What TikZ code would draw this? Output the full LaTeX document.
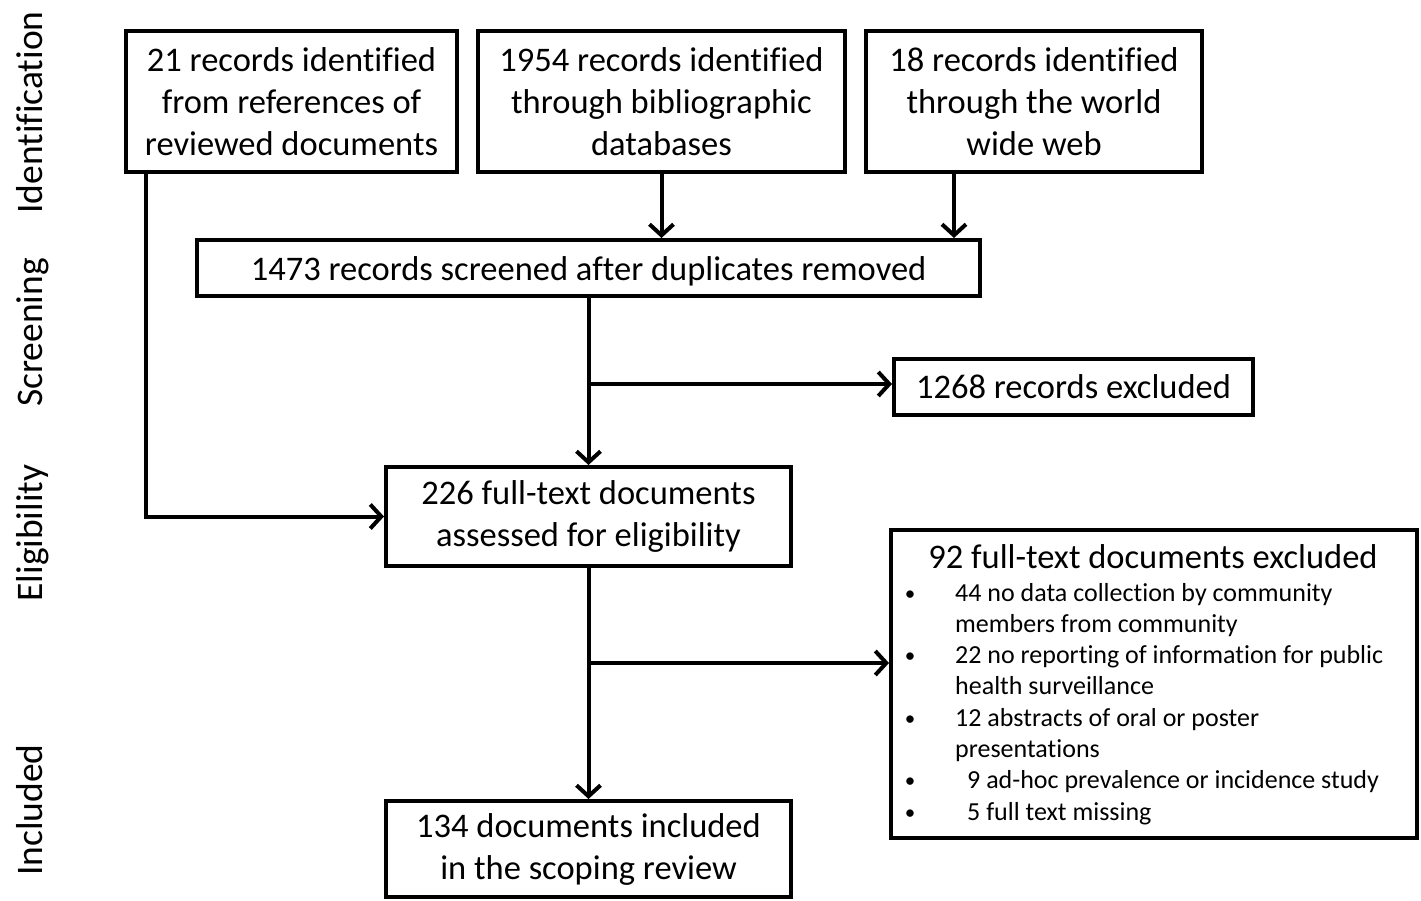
\documentclass[tikz,border=0pt]{standalone}
\usepackage{fontspec}
\setmainfont{Carlito}[Ligatures=NoCommon]
\usetikzlibrary{arrows.meta}
\begin{document}
\begin{tikzpicture}[x=1pt,y=-1pt,
  box/.style={draw, line width=4pt, align=center, inner sep=0pt, font=\fontsize{34.5}{42}\selectfont},
  conn/.style={line width=4pt, -{Straight Barb[length=11pt,width=24pt,line width=4pt]}},
  side/.style={rotate=90, anchor=base, inner sep=0pt, font=\fontsize{37.5}{40}\selectfont},
  title/.style={anchor=base, inner sep=0pt, font=\fontsize{34.5}{42}\selectfont},
  item/.style={anchor=base west, inner sep=0pt, font=\fontsize{26}{31}\selectfont},
  dot/.style={anchor=base, inner sep=0pt, font=\fontsize{21}{31}\selectfont}]
\useasboundingbox (0,0) rectangle (1421,901);

% side labels
\node[side] (lid) at (42,112.5) {Identification};
\node[side] (lsc) at (42,332.5) {Screening};
\node[side] (lel) at (42,533) {Eligibility};
\node[side] (lin) at (42,810) {Included};

% boxes
\node[box, minimum width=331, minimum height=141] (A) at (291.5,101.5)
  {21 records identified\\from references of\\reviewed documents};
\node[box, minimum width=367, minimum height=141] (B) at (661.5,101.5)
  {1954 records identified\\through bibliographic\\databases};
\node[box, minimum width=336, minimum height=141] (C) at (1034,101.5)
  {18 records identified\\through the world\\wide web};
\node[box, minimum width=783, minimum height=56, text height=32pt, text depth=8pt] (S) at (588.5,268)
  {1473 records screened after duplicates removed};
\node[box, minimum width=359, minimum height=56] (E) at (1073.5,387)
  {1268 records excluded};
\node[box, minimum width=405, minimum height=99] (G) at (588.5,516.5)
  {226 full-text documents\\assessed for eligibility};
\node[box, minimum width=526, minimum height=308] (X) at (1154,684) {};
\node[box, minimum width=405, minimum height=96] (I) at (588.5,849)
  {134 documents included\\in the scoping review};

% exclusion box content
\node[title] (xt) at (1153,568) {92 full-text documents excluded};
\node[dot] (d1) at (910,600) {•};
\node[dot] (d3) at (910,662.6) {•};
\node[dot] (d5) at (910,725.2) {•};
\node[dot] (d7) at (910,787.8) {•};
\node[dot] (d8) at (910,819.1) {•};
\node[item] (t1) at (955,601) {44 no data collection by community};
\node[item] (t2) at (955,632.3) {members from community};
\node[item] (t3) at (955,663.6) {22 no reporting of information for public};
\node[item] (t4) at (955,694.9) {health surveillance};
\node[item] (t5) at (955,726.2) {12 abstracts of oral or poster};
\node[item] (t6) at (955,757.5) {presentations};
\node[item] (t7) at (967,788.8) {9 ad-hoc prevalence or incidence study};
\node[item] (t8) at (967,820.1) {5 full text missing};

% connectors
\draw[conn] (B.south) -- (B.south |- S.north);
\draw[conn] ([xshift=-80pt]C.south) -- ([xshift=-80pt]C.south |- S.north);
\draw[conn] ([xshift=-145.5pt]A.south) |- (G.west);
\draw[conn] (S.south) -- (G.north);
\coordinate (b1) at (588.5,384);
\draw[conn] (b1) -- (b1 -| E.west);
\draw[conn] (G.south) -- (I.north);
\coordinate (b2) at (588.5,663);
\draw[conn] (b2) -- (b2 -| X.west);
\end{tikzpicture}
\end{document}
